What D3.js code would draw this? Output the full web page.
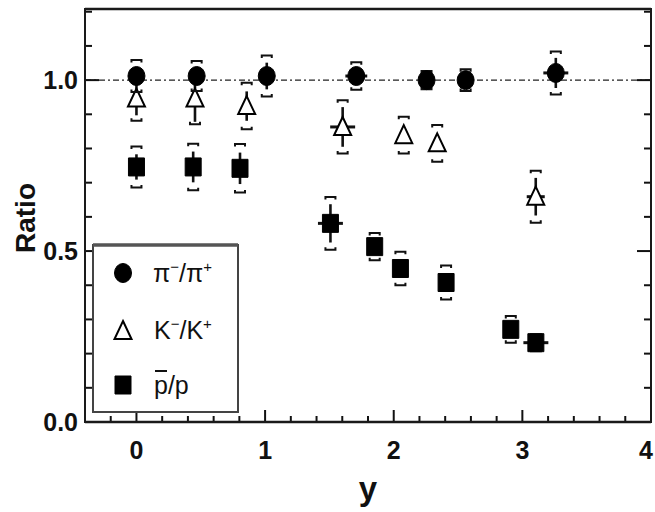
<!DOCTYPE html>
<html>
<head>
<meta charset="utf-8">
<script src="https://cdn.jsdelivr.net/npm/d3@7"></script>
<style>
  html, body { margin: 0; padding: 0; background: #fff; }
  svg { display: block; font-family: "Liberation Sans", Arial, Helvetica, sans-serif; }
</style>
</head>
<body>
<svg id="chart" width="655" height="512"></svg>
<script>
// ---- data ----
const piX    = [0.0, 0.468, 1.013, 1.709, 2.255, 2.559, 3.26];
const piY    = [1.012, 1.012, 1.012, 1.012, 1.0, 1.0, 1.021];
const piStat = [0.02, 0.02, 0.039, 0.015, 0.012, 0.012, 0.044];
const piSys  = [0.047, 0.044, 0.06, 0.04, 0.027, 0.032, 0.063];
const piXErr = [0, 0, 0, 0.085, 0, 0, 0.097];

const kX    = [0.0, 0.455, 0.857, 1.603, 2.078, 2.338, 3.104];
const kY    = [0.946, 0.946, 0.924, 0.863, 0.839, 0.815, 0.659];
const kStat = [0.049, 0.068, 0.043, 0.058, 0.02, 0.02, 0.055];
const kSys  = [0.065, 0.075, 0.068, 0.078, 0.054, 0.054, 0.076];
const kXErr = [0, 0, 0, 0.097, 0, 0, 0.07];

const pX    = [0.0, 0.441, 0.805, 1.508, 1.852, 2.052, 2.407, 2.91, 3.105];
const pY    = [0.746, 0.746, 0.742, 0.581, 0.513, 0.449, 0.408, 0.271, 0.232];
const pStat = [0.037, 0.045, 0.046, 0.056, 0.02, 0.02, 0.02, 0.02, 0.02];
const pSys  = [0.06, 0.068, 0.071, 0.077, 0.04, 0.049, 0.05, 0.039, 0.025];
const pXErr = [0, 0, 0, 0.097, 0, 0, 0, 0, 0.097];

const xDomain = [-0.4, 4];
const yDomain = [0, 1.208];
const xTickLabels = [0, 1, 2, 3, 4];
const yTickLabels = [0.0, 0.5, 1.0];
const xLabel = "y";
const yLabel = "Ratio";

// ---- layout ----
const svg = d3.select("#chart");
const mLeft = 85, mRight = 651, mTop = 9, mBottom = 422;
const x = d3.scaleLinear().domain(xDomain).range([mLeft, mRight]);
const y = d3.scaleLinear().domain(yDomain).range([mBottom, mTop]);

// reference line at 1
svg.append("line")
  .attr("x1", mLeft).attr("x2", mRight)
  .attr("y1", y(1)).attr("y2", y(1))
  .attr("stroke", "#222").attr("stroke-width", 1.3)
  .attr("stroke-dasharray", "6,3,2,3");

// ticks (inward)
const xMinor = d3.range(-0.4, 4.001, 0.2).map(v => +v.toFixed(2));
const tickG = svg.append("g").attr("stroke", "#111").attr("stroke-width", 2);
xMinor.forEach(v => {
  const isMajor = xTickLabels.some(m => Math.abs(m - v) < 1e-6);
  tickG.append("line")
    .attr("x1", x(v)).attr("x2", x(v))
    .attr("y1", mBottom).attr("y2", mBottom - (isMajor ? 12 : 6));
});
const yMinor = d3.range(0, 1.2001, 0.1).map(v => +v.toFixed(2));
yMinor.forEach(v => {
  const isMajor = yTickLabels.some(m => Math.abs(m - v) < 1e-6);
  const len = isMajor ? 14 : 7;
  tickG.append("line").attr("x1", mLeft).attr("x2", mLeft + len).attr("y1", y(v)).attr("y2", y(v));
  tickG.append("line").attr("x1", mRight).attr("x2", mRight - len).attr("y1", y(v)).attr("y2", y(v));
});

// frame
svg.append("rect")
  .attr("x", mLeft).attr("y", mTop)
  .attr("width", mRight - mLeft).attr("height", mBottom - mTop)
  .attr("fill", "none").attr("stroke", "#1a1a1a").attr("stroke-width", 2);
svg.append("line").attr("x1", mLeft).attr("x2", mRight).attr("y1", mTop).attr("y2", mTop)
  .attr("stroke", "#1a1a1a").attr("stroke-width", 2.6);
svg.append("line").attr("x1", mLeft).attr("x2", mRight).attr("y1", mBottom).attr("y2", mBottom)
  .attr("stroke", "#1a1a1a").attr("stroke-width", 2.6);

// tick labels (last one nudged so it stays inside the window)
svg.append("g").selectAll("text").data(xTickLabels).join("text")
  .attr("x", d => Math.min(x(d), 646)).attr("y", 459)
  .attr("text-anchor", "middle")
  .attr("font-size", 25).attr("font-weight", "bold").attr("fill", "#111")
  .text(d => d);
svg.append("g").selectAll("text").data(yTickLabels).join("text")
  .attr("x", 78).attr("y", d => y(d) + 9)
  .attr("text-anchor", "end")
  .attr("font-size", 25).attr("font-weight", "bold").attr("fill", "#111")
  .text(d => d.toFixed(1));

// axis titles
svg.append("text")
  .attr("x", 368).attr("y", 500)
  .attr("text-anchor", "middle")
  .attr("font-size", 33).attr("font-weight", "bold").attr("fill", "#111")
  .text(xLabel);
svg.append("text")
  .attr("transform", "translate(35,218) rotate(-90)")
  .attr("text-anchor", "middle")
  .attr("font-size", 28).attr("font-weight", "bold").attr("fill", "#111")
  .text(yLabel);

// ---- markers ----
const symbolPath = {
  circle: () => "M-8.5,0 A8.5,9.5 0 1,0 8.5,0 A8.5,9.5 0 1,0 -8.5,0 Z",
  square: () => "M-8,-9 H8 V9 H-8 Z",
  triangle: () => "M0,-10 L8.5,8 L-8.5,8 Z"
};

function drawSeries(xs, ys, stat, sys, xerr, shape, filled) {
  const g = svg.append("g");
  const pts = xs.map((v, i) => ({ x: v, y: ys[i], s: stat[i], sy: sys[i], xe: xerr[i] }));
  // systematic brackets
  pts.forEach(d => {
    const cx = x(d.x), yt = y(d.y + d.sy), yb = y(d.y - d.sy);
    g.append("path")
      .attr("d", `M${cx - 5},${yt + 2.5} V${yt} H${cx + 5} V${yt + 2.5}`)
      .attr("fill", "none").attr("stroke", "#111").attr("stroke-width", 2);
    g.append("path")
      .attr("d", `M${cx - 5},${yb - 2.5} V${yb} H${cx + 5} V${yb - 2.5}`)
      .attr("fill", "none").attr("stroke", "#111").attr("stroke-width", 2);
  });
  // stat bars
  g.selectAll("line.stat").data(pts).join("line")
    .attr("class", "stat")
    .attr("x1", d => x(d.x)).attr("x2", d => x(d.x))
    .attr("y1", d => y(d.y + d.s)).attr("y2", d => y(d.y - d.s))
    .attr("stroke", "#111").attr("stroke-width", 2.6);
  // x error bars
  g.selectAll("line.xe").data(pts.filter(d => d.xe > 0)).join("line")
    .attr("class", "xe")
    .attr("x1", d => x(d.x - d.xe)).attr("x2", d => x(d.x + d.xe))
    .attr("y1", d => y(d.y)).attr("y2", d => y(d.y))
    .attr("stroke", "#111").attr("stroke-width", 3);
  // markers
  g.selectAll("path.mk").data(pts).join("path")
    .attr("class", "mk")
    .attr("transform", d => `translate(${x(d.x)},${y(d.y)})`)
    .attr("d", symbolPath[shape]())
    .attr("fill", filled ? "#000" : "#fff")
    .attr("stroke", "#000").attr("stroke-width", filled ? 1 : 2);
}

drawSeries(pX, pY, pStat, pSys, pXErr, "square", true);
drawSeries(kX, kY, kStat, kSys, kXErr, "triangle", false);
drawSeries(piX, piY, piStat, piSys, piXErr, "circle", true);

// ---- legend ----
const lg = svg.append("g");
lg.append("rect")
  .attr("x", 93).attr("y", 245).attr("width", 145).attr("height", 167)
  .attr("fill", "#fff").attr("stroke", "#444").attr("stroke-width", 2);
lg.append("line").attr("x1", 93).attr("x2", 238).attr("y1", 245).attr("y2", 245)
  .attr("stroke", "#555").attr("stroke-width", 3.5);

const legendItems = [
  { shape: "circle", filled: true, cy: 273 },
  { shape: "triangle", filled: false, cy: 331 },
  { shape: "square", filled: true, cy: 385 }
];
legendItems.forEach(it => {
  lg.append("path")
    .attr("transform", `translate(123,${it.cy})`)
    .attr("d", symbolPath[it.shape]())
    .attr("fill", it.filled ? "#000" : "#fff")
    .attr("stroke", "#000").attr("stroke-width", it.filled ? 1 : 2);
});

// legend labels with superscripts
const t1 = lg.append("text").attr("x", 153).attr("y", 282).attr("font-size", 25).attr("fill", "#111");
t1.append("tspan").text("π");
t1.append("tspan").attr("dy", -10).attr("font-size", 15).text("−");
t1.append("tspan").attr("dy", 10).text("/π");
t1.append("tspan").attr("dy", -10).attr("font-size", 15).text("+");

const t2 = lg.append("text").attr("x", 154).attr("y", 339).attr("font-size", 25).attr("fill", "#111");
t2.append("tspan").text("K");
t2.append("tspan").attr("dy", -10).attr("font-size", 15).text("−");
t2.append("tspan").attr("dy", 10).text("/K");
t2.append("tspan").attr("dy", -10).attr("font-size", 15).text("+");

const t3 = lg.append("text").attr("x", 154).attr("y", 394).attr("font-size", 25).attr("fill", "#111");
t3.append("tspan").text("p");
t3.append("tspan").text("/p");
lg.append("line").attr("x1", 155).attr("x2", 167).attr("y1", 371).attr("y2", 371)
  .attr("stroke", "#111").attr("stroke-width", 2);
</script>
</body>
</html>
